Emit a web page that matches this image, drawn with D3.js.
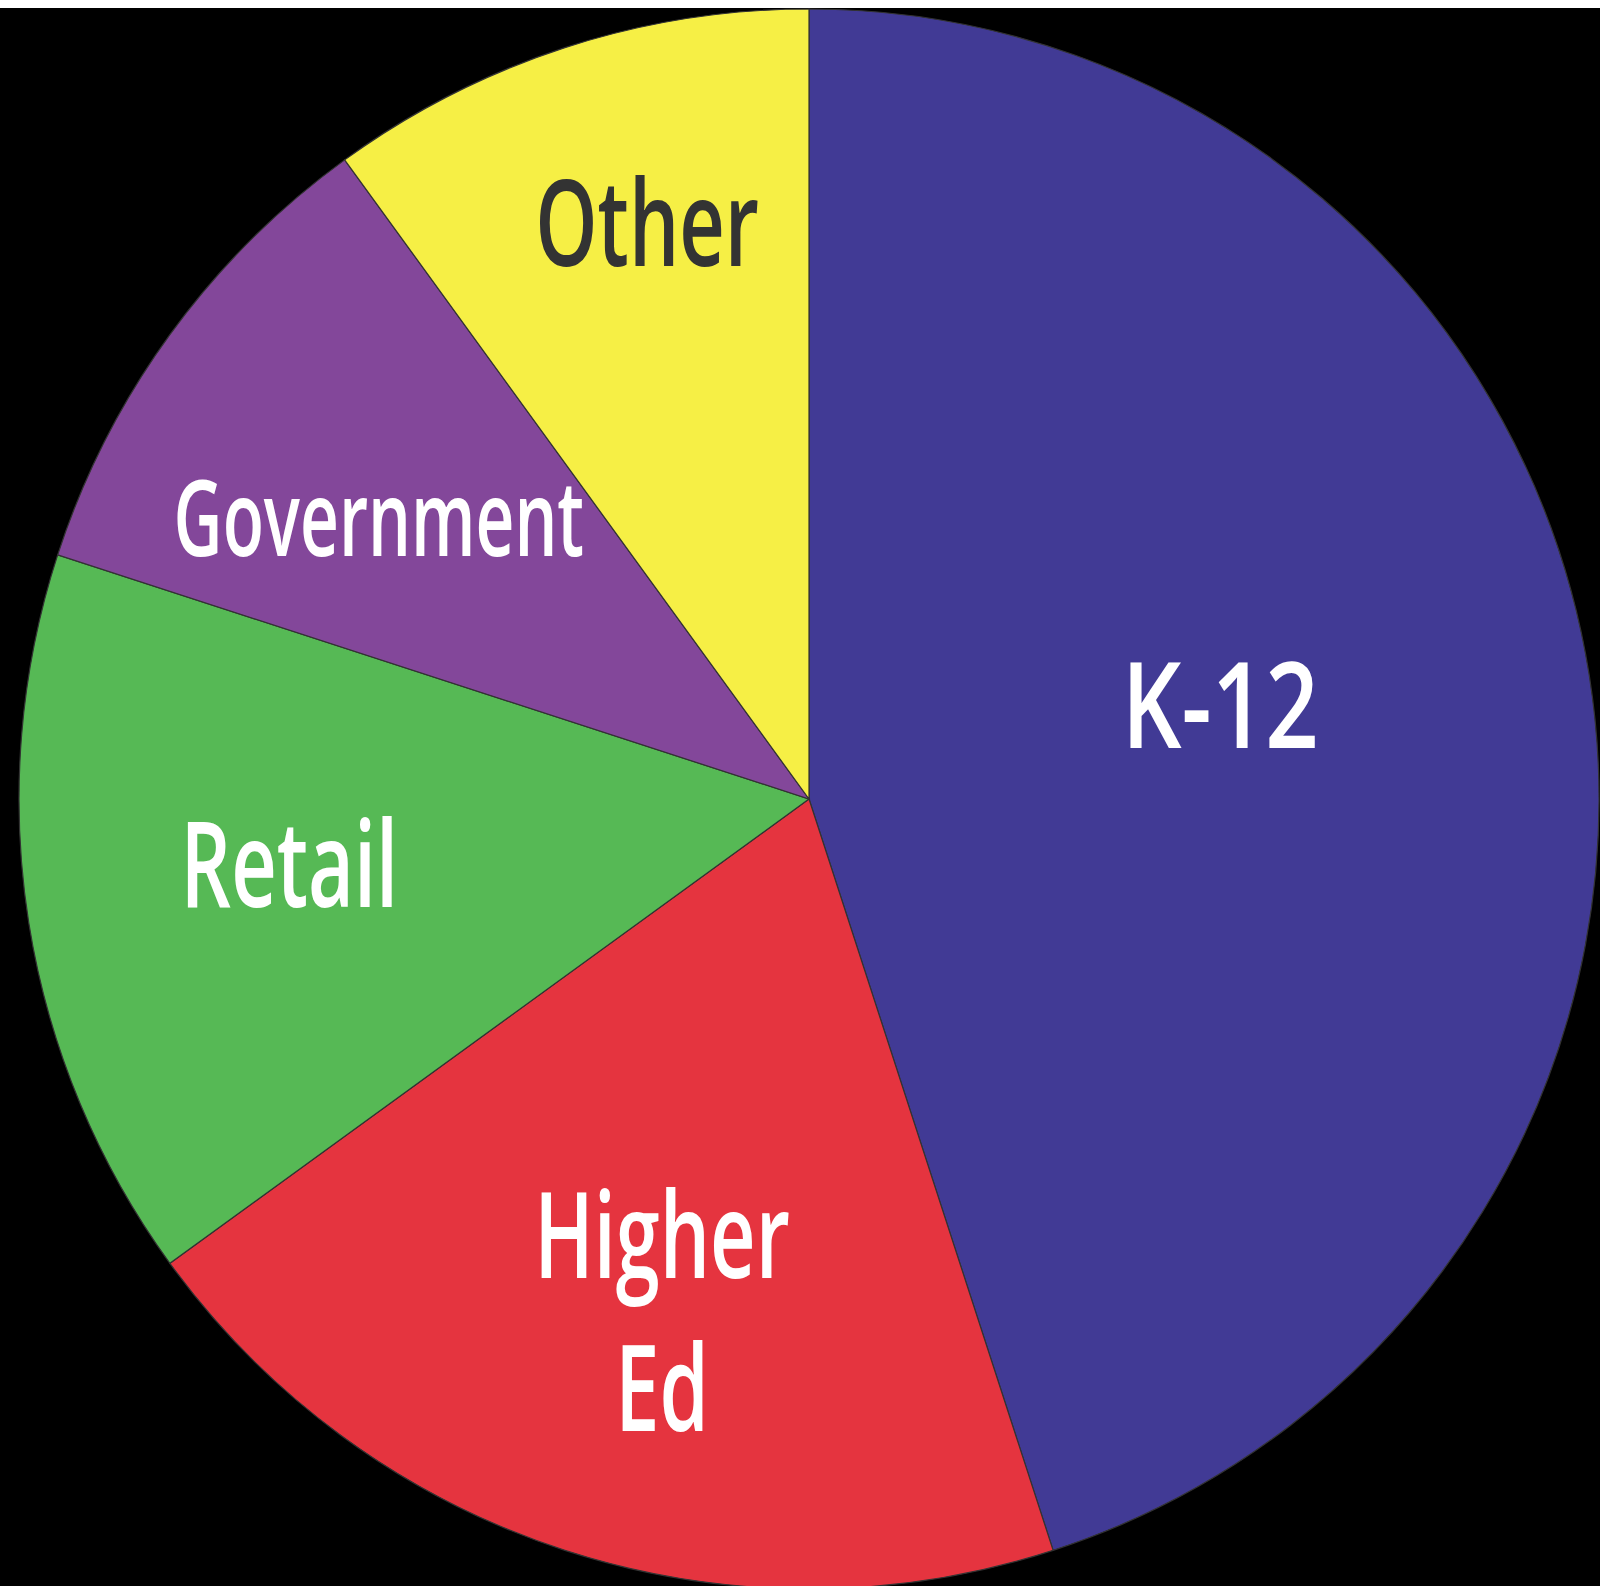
<!DOCTYPE html>
<html>
<head>
<meta charset="utf-8">
<script src="https://cdn.jsdelivr.net/npm/d3@7"></script>
<style>
  html, body { margin: 0; padding: 0; background: #fff; }
  svg { display: block; }
</style>
</head>
<body>
<script>
// market share by segment (clockwise from 12 o'clock)
const segments = ["K-12", "Higher Ed", "Retail", "Government", "Other"];
const shares = [45, 20, 15, 10, 10];
const colors = ["#413a95", "#e5343f", "#56b955", "#83479a", "#f6ef45"];
const labelColors = ["#fff", "#fff", "#fff", "#fff", "#333"];

const width = 1600, height = 1586;
const cx = 809, cy = 799, R = 790;

// label placement tweaks: radius fraction, angle nudge (deg), font scale, x-stretch
const labelRadius = {"K-12": 0.534, "Higher Ed": 0.675, "Retail": 0.663, "Government": 0.65, "Other": 0.757};
const labelNudge = {"K-12": -3.9, "Higher Ed": -2, "Retail": 1.8, "Government": -2.9, "Other": 2.3};
const labelSize = {"Government": 0.88};
const labelStretch = {"K-12": 0.78, "Government": 0.64};

const data = segments.map((s, i) => ({name: s, value: shares[i], color: colors[i], text: labelColors[i]}));

const svg = d3.select("body").append("svg")
    .attr("width", width)
    .attr("height", height);

svg.append("rect")
    .attr("x", 0).attr("y", 8)
    .attr("width", width).attr("height", height - 8)
    .attr("fill", "#000");

const pie = d3.pie().sort(null).value(d => d.value);
const arc = d3.arc().innerRadius(0).outerRadius(R);

const g = svg.append("g").attr("transform", `translate(${cx},${cy})`);

const arcs = pie(data);

g.selectAll("path")
  .data(arcs)
  .join("path")
    .attr("d", arc)
    .attr("fill", d => d.data.color)
    .attr("stroke", "#333")
    .attr("stroke-width", 1.2);

const fontSize = 120;
const lineGap = 153;

const labels = g.selectAll("g.label")
  .data(arcs)
  .join("g")
    .attr("class", "label")
    .attr("transform", d => {
      const r = (labelRadius[d.data.name] || 0.66) * R;
      const a = (d.startAngle + d.endAngle) / 2 + (labelNudge[d.data.name] || 0) * Math.PI / 180;
      const x = r * Math.sin(a), y = -r * Math.cos(a);
      return `translate(${x},${y}) scale(${labelStretch[d.data.name] || 0.66},1)`;
    });

labels.each(function(d) {
  const lines = d.data.name.split(" ");
  const fs = fontSize * (labelSize[d.data.name] || 1);
  const ch = fs * 0.714;
  const t = d3.select(this).append("text")
      .attr("text-anchor", "middle")
      .attr("font-family", "'Open Sans', 'Noto Sans', sans-serif")
      .attr("font-weight", 600)
      .attr("font-size", fs)
      .attr("fill", d.data.text);
  lines.forEach((ln, i) => {
    const off = (i - (lines.length - 1) / 2) * lineGap + ch / 2;
    t.append("tspan").attr("x", 0).attr("y", off).text(ln);
  });
});
</script>
</body>
</html>
